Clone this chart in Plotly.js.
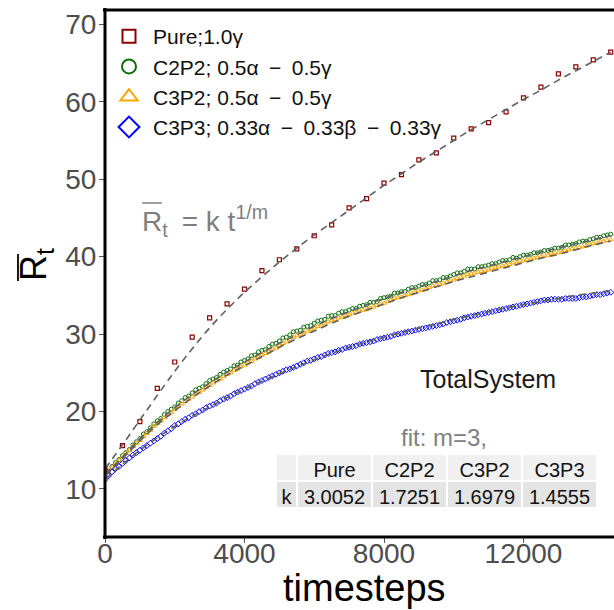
<!DOCTYPE html>
<html><head><meta charset="utf-8">
<script src="https://cdn.plot.ly/plotly-3.0.1.min.js"></script>
<style>html,body{margin:0;padding:0;background:#fff}</style>
</head><body><div id="chart" style="width:614px;height:610px"></div>
<script>
// ---- data ----
const T_START = 0, T_STEP_DENSE = 100, T_STEP_SPARSE = 500;
const SEP = "\u2002\u2212\u2002";
const seriesNames = ["Pure;1.0\u03b3", "C2P2; 0.5\u03b1" + SEP + "0.5\u03b3", "C3P2; 0.5\u03b1" + SEP + "0.5\u03b3", "C3P3; 0.33\u03b1" + SEP + "0.33\u03b2" + SEP + "0.33\u03b3"];
const xTicks = [0, 4000, 8000, 12000];
const yTicks = [10, 20, 30, 40, 50, 60, 70];

const purePts = [12.6,15.6,18.7,23.0,26.4,29.6,32.1,33.9,35.8,38.2,39.6,41.0,42.7,44.1,46.3,47.5,49.5,50.6,52.5,53.4,55.3,56.5,57.3,58.7,60.5,61.9,63.6,64.5,65.4,66.4];

const c2p2 = [
11.8,12.3,12.9,13.4,13.8, 14.3,14.7,15.1,15.7,16.1, 16.5,17.1,17.4,17.9,18.4, 18.8,19.1,19.6,20.0,20.3,
20.6,21.1,21.4,21.8,22.0, 22.4,22.8,23.0,23.2,23.6, 24.0,24.2,24.4,24.8,25.1, 25.3,25.5,25.9,26.0,26.4,
26.6,26.8,27.2,27.3,27.7, 27.9,28.0,28.4,28.7,28.8, 29.1,29.5,29.6,29.9,30.3, 30.4,30.5,30.9,31.0,31.1,
31.4,31.7,31.8,31.9,32.3, 32.4,32.4,32.7,32.9,32.9, 33.1,33.3,33.3,33.6,33.7, 33.8,34.1,34.1,34.2,34.6,
34.7,34.8,34.9,35.3,35.3, 35.5,35.5,35.8,36.0,36.0, 36.2,36.4,36.4,36.6,36.9, 36.9,37.0,37.3,37.3,37.5,
37.7,37.9,37.9,38.1,38.4, 38.4,38.4,38.7,38.7,38.8, 38.9,39.1,39.1,39.3,39.5, 39.5,39.6,39.9,39.8,40.0,
40.2,40.2,40.3,40.5,40.5, 40.6,40.8,40.8,40.9,41.1, 41.1,41.2,41.5,41.5,41.6, 41.7,41.9,42.0,42.0,42.2,
42.3,42.5,42.5,42.7,42.8, 42.9];

const c3p2 = [
11.6,12.2,12.8,13.2,13.7, 14.1,14.6,15.0,15.5,15.9, 16.3,16.8,17.2,17.6,18.1, 18.5,18.8,19.2,19.6,19.9,
20.3,20.7,21.0,21.3,21.6, 21.9,22.3,22.5,22.8,23.1, 23.4,23.7,24.0,24.2,24.5, 24.8,25.0,25.3,25.5,25.8,
26.0,26.3,26.5,26.8,27.0, 27.3,27.5,27.7,28.0,28.2, 28.5,28.8,29.0,29.3,29.6, 29.8,30.0,30.2,30.4,30.6,
30.8,31.0,31.2,31.4,31.6, 31.8,31.9,32.1,32.2,32.4, 32.5,32.7,32.8,33.0,33.1, 33.2,33.4,33.5,33.7,33.9,
34.0,34.2,34.4,34.6,34.7, 34.8,35.0,35.1,35.3,35.4, 35.6,35.7,35.8,36.0,36.2, 36.3,36.4,36.6,36.7,36.9,
37.0,37.2,37.3,37.5,37.7, 37.8,37.9,38.0,38.1,38.2, 38.3,38.5,38.6,38.7,38.8, 38.9,39.0,39.2,39.2,39.4,
39.5,39.6,39.7,39.8,39.9, 40.0,40.1,40.2,40.4,40.5, 40.5,40.6,40.8,40.9,41.0, 41.1,41.2,41.3,41.4,41.6,
41.7,41.8,41.9,42.0,42.1, 42.2];

const c3p3 = [
11.2,11.7,12.2,12.6,12.9, 13.3,13.7,14.0,14.4,14.7, 15.0,15.3,15.6,15.9,16.2, 16.5,16.8,17.2,17.5,17.8,
18.2,18.4,18.7,19.0,19.2, 19.5,19.7,20.0,20.2,20.5, 20.7,20.9,21.1,21.4,21.6, 21.8,22.0,22.3,22.5,22.7,
22.9,23.1,23.3,23.6,23.8, 24.0,24.2,24.4,24.6,24.8, 25.0,25.2,25.4,25.5,25.7, 25.9,26.1,26.3,26.5,26.6,
26.8,27.0,27.1,27.3,27.5, 27.6,27.7,27.9,28.0,28.2, 28.3,28.4,28.5,28.7,28.8, 28.9,29.0,29.1,29.3,29.4,
29.5,29.6,29.7,29.9,30.0, 30.1,30.2,30.3,30.4,30.5, 30.6,30.7,30.8,30.9,31.0, 31.1,31.2,31.3,31.5,31.6,
31.7,31.8,31.9,32.1,32.2, 32.3,32.4,32.5,32.6,32.7, 32.8,32.9,33.0,33.1,33.2, 33.3,33.4,33.5,33.6,33.7,
33.8,33.9,34.0,34.1,34.2, 34.3,34.4,34.4,34.5,34.5, 34.5,34.5,34.6,34.6,34.6, 34.6,34.7,34.8,34.8,34.9,
35.0,35.1,35.1,35.2,35.3, 35.4];

const fitPure = [12.6,15.7,18.9,22.1,25.2,28.1,30.8,33.2,35.4,37.4,39.3,41.1,42.8,44.4,46.0,47.6,49.2,50.7,52.2,53.6,55.0,56.4,57.7,59.0,60.3,61.5,62.8,64.0,65.2,66.4];
const fitC2P2 = [11.9,14.1,16.5,18.6,20.5,22.2,23.7,25.1,26.4,27.6,28.8,29.9,31.0,32.0,32.9,33.8,34.6,35.4,36.1,36.8,37.5,38.2,38.8,39.4,40.0,40.6,41.1,41.7,42.2,42.7];
const fitC3P2 = [11.7,13.9,16.2,18.3,20.1,21.8,23.3,24.7,25.9,27.1,28.3,29.4,30.4,31.4,32.3,33.1,33.9,34.7,35.4,36.1,36.8,37.4,38.0,38.6,39.2,39.8,40.3,40.9,41.5,42.0];
const fitC3P3 = [11.2,13.2,15.0,16.6,18.1,19.4,20.6,21.8,22.9,23.9,24.9,25.8,26.7,27.5,28.3,29.0,29.6,30.2,30.8,31.3,31.9,32.4,32.9,33.4,33.8,34.2,34.6,35.0,35.3,35.6];

const tableHeader = ["", "Pure", "C2P2", "C3P2", "C3P3"];
const tableRow = ["k", "3.0052", "1.7251", "1.6979", "1.4555"];

// ---- styling ----
const FONT = "Liberation Sans, Arial, sans-serif";
const COL = {pure:"#8B0000", c2p2:"#0E6E0E", c3p2:"#FFA500", c3p3:"#0000FF", fit:"#5F5F5F"};
const L = 105, R = 614, T = 10, B = 537;
const px2x = p => (p - L) / (R - L);
const py2y = p => (B - p) / (B - T);

function dense(y, color, symbol, size){
  return {type:"scatter", mode:"markers", x0:T_START, dx:T_STEP_DENSE, y:y, showlegend:false, hoverinfo:"skip",
    marker:{symbol:symbol, size:size, color:color, line:{color:color, width:1}}};
}
function fit(y){
  return {type:"scatter", mode:"lines", x0:T_START, dx:T_STEP_SPARSE, y:y, showlegend:false, hoverinfo:"skip",
    line:{color:COL.fit, width:1.6, dash:"7px,5px", shape:"spline"}};
}
function legendOnly(name, color, symbol, size){
  return {type:"scatter", mode:"markers", x:[null], y:[null], name:name, legendgroup:name,
    marker:{symbol:symbol, size:size, color:color, line:{color:color, width:2}}};
}

const traces = [
  dense(c2p2, COL.c2p2, "circle-open", 4),
  dense(c3p2, COL.c3p2, "triangle-up-open", 4.5),
  dense(c3p3, COL.c3p3, "diamond-open", 4.5),
  {type:"scatter", mode:"markers", x0:T_START, dx:T_STEP_SPARSE, y:purePts, showlegend:false, hoverinfo:"skip",
    marker:{symbol:"square-open", size:4, color:COL.pure, line:{color:COL.pure, width:1.2}}},
  fit(fitC2P2), fit(fitC3P2), fit(fitC3P3), fit(fitPure),
  legendOnly(seriesNames[0], COL.pure, "square-open", 13),
  legendOnly(seriesNames[1], COL.c2p2, "circle-open", 14),
  legendOnly(seriesNames[2], COL.c3p2, "triangle-up-open", 15),
  legendOnly(seriesNames[3], COL.c3p3, "diamond-open", 16),
  {type:"table", domain:{x:[px2x(276), px2x(597)], y:[py2y(508), py2y(454)]},
    columnwidth:[21,75,75,75,75],
    header:{values:tableHeader, height:27, align:"center", fill:{color:"#F0F0F0"}, line:{color:"white", width:2},
      font:{family:FONT, size:20, color:"#111"}},
    cells:{values:tableRow.map(v=>[v]), height:27, align:"center", fill:{color:"#E4E4E4"}, line:{color:"white", width:2},
      font:{family:FONT, size:20, color:"#111"}}}
];

const layout = {
  width:614, height:610,
  margin:{l:L, r:614-R, t:T, b:610-B, pad:0},
  paper_bgcolor:"white", plot_bgcolor:"white",
  font:{family:FONT},
  hovermode:false,
  xaxis:{range:[0, 14595], showgrid:false, zeroline:false, showline:false, ticks:"outside", ticklen:5, tickwidth:1, tickcolor:"#555",
    ticklabelstandoff:-14,
    tickmode:"array", tickvals:xTicks, ticktext:xTicks.map(String), tickfont:{family:FONT, size:28, color:"#4D4D4D"}},
  yaxis:{range:[3.80, 71.85], showgrid:false, zeroline:false, showline:false, ticks:"outside", ticklen:5, tickwidth:1, tickcolor:"#555",
    ticklabelstandoff:-3,
    tickmode:"array", tickvals:yTicks, ticktext:yTicks.map(String), tickfont:{family:FONT, size:28, color:"#4D4D4D"}},
  legend:{x:0, xanchor:"left", y:py2y(16), yanchor:"top", bgcolor:"rgba(0,0,0,0)", itemwidth:38, tracegroupgap:0,
    font:{family:FONT, size:21, color:"#111"}},
  shapes:[
    {type:"line", xref:"paper", yref:"paper", x0:0, x1:0, y0:-0.004, y1:1.004, line:{color:"black", width:3}},
    {type:"line", xref:"paper", yref:"paper", x0:-0.004, x1:1.01, y0:0, y1:0, line:{color:"black", width:3}},
    {type:"line", xref:"paper", yref:"paper", x0:-0.004, x1:1.01, y0:1, y1:1, line:{color:"black", width:3}},
    // overbar of formula R
    {type:"line", xref:"paper", yref:"paper", x0:px2x(142), x1:px2x(162), y0:py2y(203), y1:py2y(203), line:{color:"#7F7F7F", width:1.5}},
    // overbar of y title R (rotated)
    {type:"line", xref:"paper", yref:"paper", x0:px2x(18), x1:px2x(18), y0:py2y(254), y1:py2y(281), line:{color:"black", width:1.8}}
  ],
  annotations:[
    {xref:"paper", yref:"paper", x:px2x(36), y:py2y(265), text:"R<sub>t</sub>", textangle:-90, showarrow:false,
      xanchor:"center", yanchor:"middle", font:{family:FONT, size:36, color:"black"}},
    {xref:"paper", yref:"paper", x:px2x(364), y:py2y(588), text:"timesteps", showarrow:false,
      xanchor:"center", yanchor:"middle", font:{family:FONT, size:38, color:"black"}},
    {xref:"paper", yref:"paper", x:px2x(140), y:py2y(221), text:"R<sub>t</sub>\u2002= k t<sup>1/m</sup>", showarrow:false,
      xanchor:"left", yanchor:"middle", font:{family:FONT, size:28, color:"#7F7F7F"}},
    {xref:"paper", yref:"paper", x:px2x(488), y:py2y(379), text:"TotalSystem", showarrow:false,
      xanchor:"center", yanchor:"middle", font:{family:FONT, size:25, color:"#1A1A1A"}},
    {xref:"paper", yref:"paper", x:px2x(444), y:py2y(437), text:"fit: m=3,", showarrow:false,
      xanchor:"center", yanchor:"middle", font:{family:FONT, size:24, color:"#808080"}}
  ]
};

Plotly.newPlot("chart", traces, layout, {staticPlot:true, displayModeBar:false});
</script></body></html>
